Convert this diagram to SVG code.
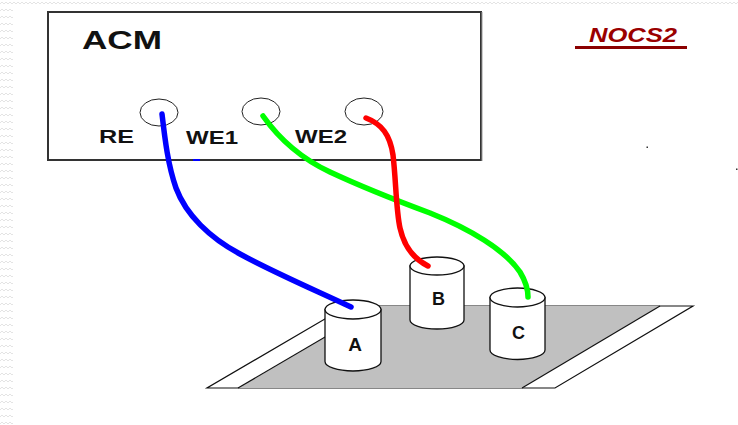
<svg xmlns="http://www.w3.org/2000/svg" width="738" height="425" viewBox="0 0 738 425">
  <defs>
    <pattern id="weave" width="8" height="7" patternUnits="userSpaceOnUse">
      <path d="M0,4 L2,2 L4,4 L6,2 L8,4" fill="none" stroke="#e4e4e4" stroke-width="1"/>
    </pattern>
    <style>
      .lbl { font-family: "Liberation Sans", Arial, sans-serif; font-weight: bold; fill: #111; }
      .port { fill: none; stroke: #222; stroke-width: 1; }
      .cyl { fill: #fff; stroke: #111; stroke-width: 1.3; }
      .wire { fill: none; stroke-width: 5.5; stroke-linecap: round; stroke-linejoin: round; }
      .edge { fill: none; stroke: #111; stroke-width: 1.2; }
    </style>
  </defs>

  <rect width="738" height="425" fill="#fff"/>
  <!-- faint textured border -->
  <rect x="0" y="0" width="13" height="425" fill="url(#weave)"/>
  <rect x="13" y="0" width="725" height="6" fill="url(#weave)"/>

  <!-- instrument box -->
  <g id="acm">
    <rect x="48" y="12" width="433" height="148" fill="#fff" stroke="#333" stroke-width="2"/>
    <line x1="482" y1="12" x2="482" y2="161" stroke="#999" stroke-width="1"/>
    <text class="lbl" x="82" y="49" font-size="25" textLength="80" lengthAdjust="spacingAndGlyphs">ACM</text>
    <text class="lbl" x="99" y="143" font-size="18" textLength="35" lengthAdjust="spacingAndGlyphs">RE</text>
    <text class="lbl" x="186" y="143.5" font-size="18" textLength="52" lengthAdjust="spacingAndGlyphs">WE1</text>
    <text class="lbl" x="295" y="143" font-size="18" textLength="52" lengthAdjust="spacingAndGlyphs">WE2</text>
  </g>
  <g id="port-re"><ellipse class="port" cx="159" cy="112.5" rx="19" ry="13.5"/></g>
  <g id="port-we1"><ellipse class="port" cx="261" cy="111.5" rx="19" ry="13.5"/></g>
  <g id="port-we2"><ellipse class="port" cx="364" cy="111.5" rx="19" ry="13.5"/></g>

  <!-- title -->
  <g id="title">
    <text x="589" y="42" font-family="Liberation Sans, Arial, sans-serif" font-weight="bold" font-style="italic" font-size="20" fill="#9a0000" textLength="88" lengthAdjust="spacingAndGlyphs">NOCS2</text>
    <rect x="575" y="46" width="112" height="3" fill="#8b0000"/>
  </g>

  <!-- stray specks -->
  <rect x="646.5" y="146.5" width="1.5" height="1.5" fill="#333"/>
  <rect x="736" y="168.5" width="1.5" height="1.5" fill="#333"/>

  <!-- tray -->
  <g id="tray">
    <polygon points="207,388 555,388 693,306 347,306" fill="#fff" stroke="#111" stroke-width="1.2"/>
    <polygon points="238,388 522,388 660,306 378,306" fill="#c0c0c0" stroke="none"/>
    <line class="edge" x1="238" y1="388" x2="378" y2="306"/>
    <line class="edge" x1="522" y1="388" x2="660" y2="306"/>
  </g>

  <!-- electrode cells -->
  <g id="cell-b">
    <path class="cyl" d="M410,266 L410,320 A27,9 0 0 0 464,320 L464,266 Z"/>
    <ellipse class="cyl" cx="437" cy="266" rx="27" ry="9"/>
    <text class="lbl" x="438.5" y="305" font-size="18" text-anchor="middle">B</text>
  </g>
  <g id="cell-c">
    <path class="cyl" d="M490,297.5 L490,350 A27.5,9.5 0 0 0 545,350 L545,297.5 Z"/>
    <ellipse class="cyl" cx="517.5" cy="297.5" rx="27.5" ry="9.5"/>
    <text class="lbl" x="518.5" y="339" font-size="18" text-anchor="middle">C</text>
  </g>
  <g id="cell-a">
    <path class="cyl" d="M325,309.5 L325,361.5 A28,9.5 0 0 0 381,361.5 L381,309.5 Z"/>
    <ellipse class="cyl" cx="353" cy="309.5" rx="28" ry="9.5"/>
    <text class="lbl" x="355" y="351" font-size="19" text-anchor="middle">A</text>
  </g>

  <!-- leads -->
  <g id="connectors">
    <path class="wire" stroke="#0000ff" d="M162,114 C165,140 168,165 176,188 C186,215 210,238 240,254 C275,273 315,290 351,307"/>
    <path class="wire" stroke="#00ff00" d="M263,116 C280,140 300,158 330,172 C360,186 395,200 430,213 C470,229 505,250 520,272 C526,282 528,290 528,297"/>
    <path class="wire" stroke="#ff0000" d="M366,118 C382,124 390,135 393,155 C396,180 396,210 400,228 C404,246 414,259 428,266"/>
    <line x1="193" y1="160" x2="200" y2="160" stroke="#0000ff" stroke-width="2"/>
  </g>
</svg>
